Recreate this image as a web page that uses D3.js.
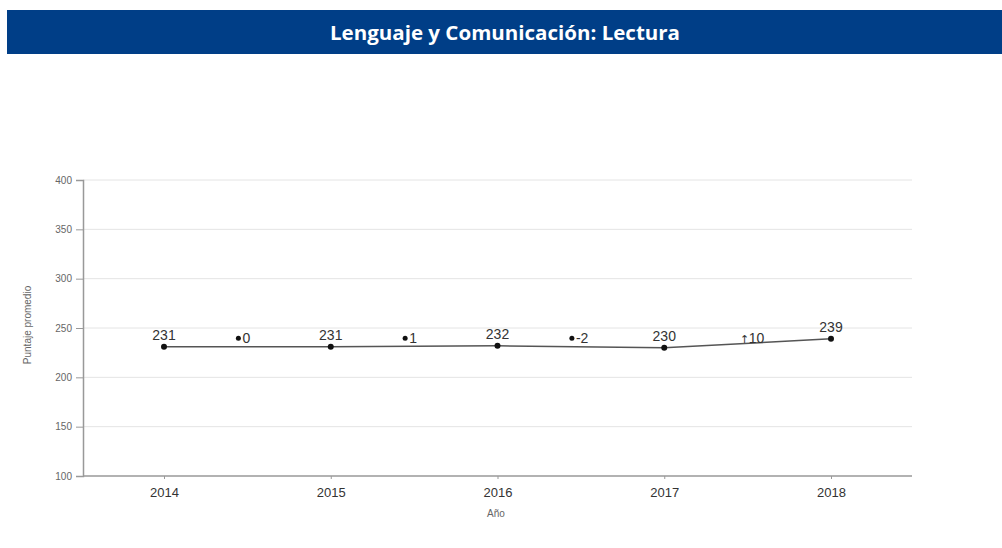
<!DOCTYPE html>
<html><head><meta charset="utf-8">
<script src="https://cdn.jsdelivr.net/npm/d3@7"></script>
<style>body{margin:0;background:#fff}svg{display:block}</style>
</head><body>
<svg id="c" width="1002" height="548"></svg>
<script>
const titleText = "Lenguaje y Comunicación: Lectura";
const years = [2014, 2015, 2016, 2017, 2018];
const scores = [231, 231, 232, 230, 239];
const diffLabels = ["0", "1", "-2", "10"];
const diffSymbols = ["dot", "dot", "dot", "up"];
const diffLevel = [239.5, 239.5, 239.5, 239.5];
const yTicks = [100, 150, 200, 250, 300, 350, 400];
const yTitle = "Puntaje promedio";
const xTitle = "Año";

const svg = d3.select("#c");
// header band
svg.append("rect").attr("x", 7).attr("y", 10).attr("width", 995).attr("height", 44).attr("fill", "#003e87");
svg.append("text").attr("x", 505).attr("y", 40).attr("text-anchor", "middle")
  .attr("fill", "#fff").attr("font-family", "Open Sans").attr("font-weight", 700)
  .attr("font-size", 19).attr("textLength", 350).attr("lengthAdjust", "spacingAndGlyphs").text(titleText);

const x = d3.scaleLinear().domain([2014, 2018]).range([164, 831]);
const y = d3.scaleLinear().domain([100, 400]).range([476, 180]);
const left = 83, right = 912;

// gridlines
svg.append("g").selectAll("line").data(yTicks.filter(t => t > 100)).join("line")
  .attr("x1", left).attr("x2", right).attr("y1", d => y(d)).attr("y2", d => y(d))
  .attr("stroke", "#e4e4e4").attr("stroke-width", 1);

// y axis
const yAxis = svg.append("g").attr("transform", `translate(${left},0)`)
  .call(d3.axisLeft(y).tickValues(yTicks).tickSize(7).tickPadding(4));
yAxis.select(".domain").attr("stroke", "#999").attr("stroke-width", 1.5);
yAxis.selectAll(".tick line").attr("stroke", "#999");
yAxis.selectAll("text").attr("font-family", "Liberation Sans").attr("font-size", 10).attr("fill", "#666");

// x axis
const xAxis = svg.append("g").attr("transform", `translate(0,476)`)
  .call(d3.axisBottom(x).tickValues(years).tickFormat(d3.format("d")).tickSize(3).tickPadding(9));
xAxis.select(".domain").attr("d", `M${left},0H${right}`).attr("stroke", "#999").attr("stroke-width", 1.5);
xAxis.selectAll(".tick line").attr("stroke", "#999");
xAxis.selectAll("text").attr("font-family", "Liberation Sans").attr("font-size", 13).attr("fill", "#333");

// axis titles
svg.append("text").attr("transform", "translate(31,325) rotate(-90)").attr("text-anchor", "middle")
  .attr("font-family", "Liberation Sans").attr("font-size", 10).attr("fill", "#666").text(yTitle);
svg.append("text").attr("x", 496).attr("y", 517).attr("text-anchor", "middle")
  .attr("font-family", "Liberation Sans").attr("font-size", 10).attr("fill", "#666").text(xTitle);

// line
const pts = years.map((yr, i) => ({yr, v: scores[i]}));
svg.append("path").datum(pts)
  .attr("d", d3.line().x(d => x(d.yr)).y(d => y(d.v)))
  .attr("fill", "none").attr("stroke", "#555").attr("stroke-width", 1.5);
svg.append("g").selectAll("circle").data(pts).join("circle")
  .attr("cx", d => x(d.yr)).attr("cy", d => y(d.v)).attr("r", 3).attr("fill", "#111");
svg.append("g").selectAll("text").data(pts).join("text")
  .attr("x", d => x(d.yr)).attr("y", d => y(d.v) - 7).attr("text-anchor", "middle")
  .attr("font-family", "Liberation Sans").attr("font-size", 14).attr("fill", "#333")
  .text(d => d.v);

// differences between years
const diffs = diffLabels.map((l, i) => ({l, s: diffSymbols[i], v: diffLevel[i], mid: (x(years[i]) + x(years[i + 1])) / 2}));
const dg = svg.append("g");
diffs.forEach(d => {
  const cy = y(d.v);
  if (d.s === "dot") {
    dg.append("circle").attr("cx", d.mid - 9).attr("cy", cy).attr("r", 2.5).attr("fill", "#111");
  } else {
    dg.append("text").attr("x", d.mid - 3).attr("y", cy + 5).attr("text-anchor", "middle")
      .attr("font-family", "DejaVu Sans").attr("font-size", 11).attr("fill", "#333").text("↑");
  }
  dg.append("text").attr("x", d.s === "dot" ? d.mid - 5 : d.mid + 1).attr("y", cy + 5)
    .attr("font-family", "Liberation Sans").attr("font-size", 14).attr("fill", "#333").text(d.l);
});
</script>
</body></html>
